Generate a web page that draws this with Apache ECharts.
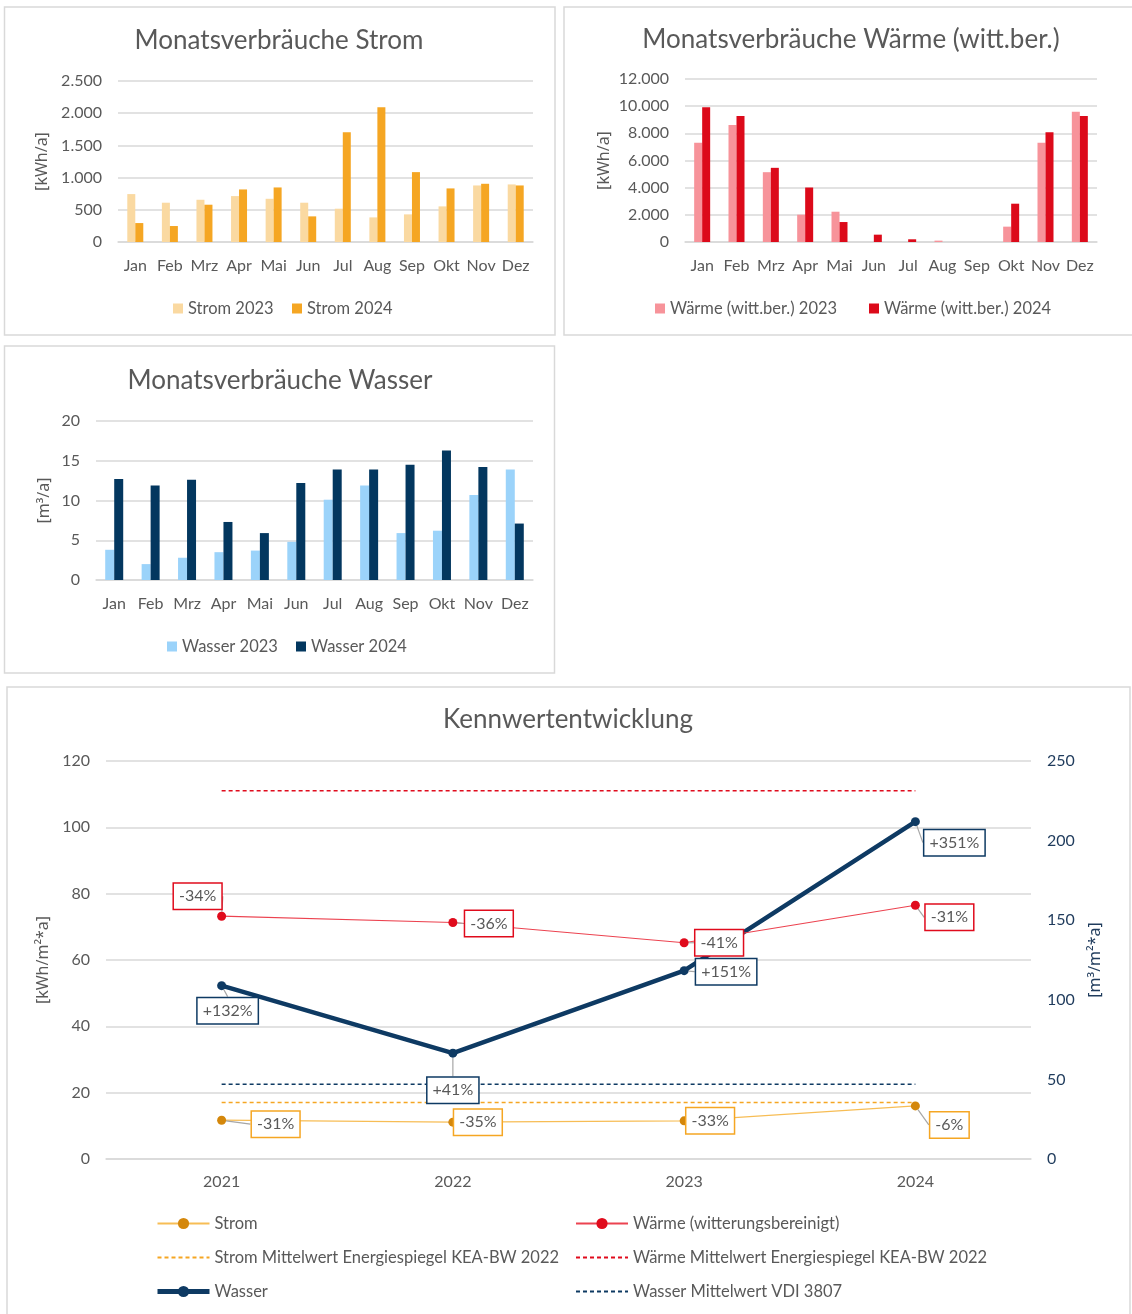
<!DOCTYPE html>
<html>
<head>
<meta charset="utf-8">
<script src="https://cdn.jsdelivr.net/npm/echarts@6/dist/echarts.min.js"></script>
<style>
    html, body { margin: 0; padding: 0; background: #fff; }
    #main { width: 1132px; height: 1314px; }
</style>
</head>
<body>
<div id="main"></div>
<script>
// monthly data
const months = ['Jan', 'Feb', 'Mrz', 'Apr', 'Mai', 'Jun', 'Jul', 'Aug', 'Sep', 'Okt', 'Nov', 'Dez']
const strom2023 = [744, 610, 656, 713, 671, 610, 517, 382, 429, 553, 878, 894]
const strom2024 = [294, 248, 579, 816, 847, 398, 1705, 2092, 1085, 832, 904, 878]
const waerme2023 = [7300, 8620, 5140, 2010, 2230, 0, 0, 100, 0, 1130, 7300, 9580]
const waerme2024 = [9920, 9280, 5460, 4010, 1470, 540, 200, 0, 0, 2820, 8080, 9280]
const wasser2023 = [3.8, 2.0, 2.8, 3.5, 3.7, 4.8, 10.1, 11.9, 5.9, 6.2, 10.7, 13.9]
const wasser2024 = [12.7, 11.9, 12.6, 7.3, 5.9, 12.2, 13.9, 13.9, 14.5, 16.3, 14.2, 7.1]

// yearly key figures
const years = ['2021', '2022', '2023', '2024']
const stromKW = [11.7, 11.1, 11.5, 16.0]
const waermeKW = [73.2, 71.3, 65.2, 76.5]
const wasserKW = [108.9, 66.5, 118.3, 211.9]
const stromMittel = [17, 17, 17, 17]
const waermeMittel = [111, 111, 111, 111]
const wasserMittel = [47, 47, 47, 47]
const stromDelta = ['-31%', '-35%', '-33%', '-6%']
const waermeDelta = ['-34%', '-36%', '-41%', '-31%']
const wasserDelta = ['+132%', '+41%', '+151%', '+351%']

// label box offsets from the point (layout only)
const stromOff = [[54, 4], [25, 0], [26, 0], [34, 19]]
const waermeOff = [[-24, -20], [36, 1], [35, 0], [34, 12]]
const wasserOff = [[6, 25], [0, 37], [42, 1], [39, 21]]

const FONT = 'Lato, "Noto Sans", sans-serif'
const NAMEFONT = '"Noto Sans", sans-serif'
const GREY = '#595959'
const GRID = '#d9d9d9'

function deNum (v) {
    return String(v).replace(/\B(?=(\d{3})+(?!\d))/g, '.')
}

function catAxis (idx, data) {
    return {
        type: 'category',
        gridIndex: idx,
        data: data,
        axisLine: { lineStyle: { color: GRID, width: 1.5 } },
        axisTick: { show: false },
        axisLabel: { color: GREY, fontSize: 16, fontFamily: FONT, margin: 16, interval: 0 }
    }
}

function valAxis (idx, max, interval, name, gap) {
    return {
        type: 'value',
        gridIndex: idx,
        min: 0,
        max: max,
        interval: interval,
        name: name,
        nameLocation: 'middle',
        nameGap: gap,
        nameRotate: 90,
        nameTextStyle: { color: GREY, fontSize: 16, fontFamily: NAMEFONT },
        axisLine: { show: false },
        axisTick: { show: false },
        splitLine: { lineStyle: { color: GRID, width: 1.5 } },
        axisLabel: { color: GREY, fontSize: 16, fontFamily: FONT, margin: 16, formatter: deNum }
    }
}

function barLegend (name, left, top) {
    return {
        data: [name],
        left: left,
        top: top,
        icon: 'rect',
        itemWidth: 10,
        itemHeight: 10,
        itemGap: 0,
        selectedMode: false,
        textStyle: { color: GREY, fontSize: 16.5, fontFamily: FONT }
    }
}

function lineLegend (items, left) {
    return {
        data: items,
        orient: 'vertical',
        left: left,
        top: 1210,
        itemWidth: 52,
        itemHeight: 14,
        itemGap: 17,
        selectedMode: false,
        textStyle: { color: GREY, fontSize: 16.5, fontFamily: FONT }
    }
}

function bar (name, data, color, idx, width) {
    return {
        name: name,
        type: 'bar',
        xAxisIndex: idx,
        yAxisIndex: idx,
        data: data,
        barWidth: width,
        barGap: '0%',
        itemStyle: { color: color }
    }
}

function labelFor (texts, border) {
    return {
        show: true,
        formatter: function (p) { return texts[p.dataIndex] },
        color: GREY,
        fontSize: 16,
        fontFamily: FONT,
        backgroundColor: '#fff',
        borderColor: border,
        borderWidth: 1.5,
        padding: [5, 5, 4, 5]
    }
}

function layoutFor (offs) {
    return function (p) {
        let o = offs[p.dataIndex]
        return {
            x: p.rect.x + p.rect.width / 2 + o[0],
            y: p.rect.y + p.rect.height / 2 + o[1],
            align: 'center',
            verticalAlign: 'middle'
        }
    }
}

function meanLine (name, data, color, yIdx) {
    return {
        name: name,
        type: 'line',
        xAxisIndex: 3,
        yAxisIndex: yIdx,
        data: data,
        symbol: 'none',
        silent: true,
        lineStyle: { color: color, width: 1.5, type: [4, 3] },
        itemStyle: { color: color }
    }
}

function panel (x, y, w, h) {
    return {
        type: 'rect',
        shape: { x: x, y: y, width: w, height: h },
        style: { fill: 'none', stroke: GRID, lineWidth: 1.5 },
        silent: true
    }
}

function title (text, x, y) {
    return {
        type: 'text',
        x: x,
        y: y,
        style: {
            text: text,
            align: 'center',
            verticalAlign: 'middle',
            fill: GREY,
            fontSize: 26,
            fontFamily: FONT
        }
    }
}

let chart = echarts.init(document.getElementById('main'), null, { renderer: 'canvas' })

chart.setOption({
    backgroundColor: '#fff',
    animation: false,
    graphic: [
        panel(4.5, 7, 550.5, 328),
        panel(564, 7, 590, 328),
        panel(4.5, 346, 550, 327),
        panel(7, 687, 1123, 660),
        title('Monatsverbräuche Strom', 279, 41),
        title('Monatsverbräuche Wärme (witt.ber.)', 851, 40),
        title('Monatsverbräuche Wasser', 280, 381),
        title('Kennwertentwicklung', 568, 720)
    ],
    grid: [
        { left: 118, right: 599, top: 81, bottom: 1072 },
        { left: 685, right: 35, top: 79, bottom: 1072 },
        { left: 96, right: 599, top: 421, bottom: 734 },
        { left: 106, right: 101, top: 761, bottom: 155 }
    ],
    xAxis: [
        catAxis(0, months),
        catAxis(1, months),
        catAxis(2, months),
        Object.assign(catAxis(3, years), { axisLabel: { color: GREY, fontSize: 16, fontFamily: FONT, margin: 15 } })
    ],
    yAxis: [
        valAxis(0, 2500, 500, '[kWh/a]', 68),
        valAxis(1, 12000, 2000, '[kWh/a]', 73),
        valAxis(2, 20, 5, '[m³/a]', 44),
        valAxis(3, 120, 20, '[kWh/m²*a]', 52),
        Object.assign(valAxis(3, 250, 50, '[m³/m²*a]', 56), {
            position: 'right',
            splitLine: { show: false },
            nameTextStyle: { color: '#1f3b5c', fontSize: 16, fontFamily: NAMEFONT },
            axisLabel: { color: '#1f3b5c', fontSize: 16, fontFamily: FONT, margin: 16 }
        })
    ],
    legend: [
        barLegend('Strom 2023', 168, 295),
        barLegend('Strom 2024', 287, 295),
        barLegend('Wärme (witt.ber.) 2023', 650, 295),
        barLegend('Wärme (witt.ber.) 2024', 864, 295),
        barLegend('Wasser 2023', 162, 633),
        barLegend('Wasser 2024', 291, 633),
        lineLegend([
            { name: 'Strom' },
            { name: 'Strom Mittelwert Energiespiegel KEA-BW 2022', itemStyle: { opacity: 0 } },
            { name: 'Wasser', lineStyle: { width: 5 } }
        ], 150),
        lineLegend([
            { name: 'Wärme (witterungsbereinigt)' },
            { name: 'Wärme Mittelwert Energiespiegel KEA-BW 2022', itemStyle: { opacity: 0 } },
            { name: 'Wasser Mittelwert VDI 3807', itemStyle: { opacity: 0 } }
        ], 570)
    ],
    series: [
        bar('Strom 2023', strom2023, '#fad9a1', 0, 8),
        bar('Strom 2024', strom2024, '#f5a623', 0, 8),
        bar('Wärme (witt.ber.) 2023', waerme2023, '#f7939a', 1, 8),
        bar('Wärme (witt.ber.) 2024', waerme2024, '#dc0a1a', 1, 8),
        bar('Wasser 2023', wasser2023, '#9bd3fa', 2, 9),
        bar('Wasser 2024', wasser2024, '#03375f', 2, 9),

        meanLine('Strom Mittelwert Energiespiegel KEA-BW 2022', stromMittel, '#f5a623', 3),
        meanLine('Wärme Mittelwert Energiespiegel KEA-BW 2022', waermeMittel, '#e00b1c', 3),
        meanLine('Wasser Mittelwert VDI 3807', wasserMittel, '#0e3a63', 4),

        {
            name: 'Wasser',
            type: 'line',
            xAxisIndex: 3,
            yAxisIndex: 4,
            data: wasserKW,
            symbol: 'circle',
            symbolSize: 9,
            lineStyle: { color: '#0e3a63', width: 4.5 },
            itemStyle: { color: '#0e3a63' },
            label: labelFor(wasserDelta, '#0e3a63'),
            labelLayout: layoutFor(wasserOff),
            labelLine: { show: true, lineStyle: { color: '#a6a6a6', width: 1.2 } }
        },
        {
            name: 'Wärme (witterungsbereinigt)',
            type: 'line',
            xAxisIndex: 3,
            yAxisIndex: 3,
            data: waermeKW,
            symbol: 'circle',
            symbolSize: 9,
            lineStyle: { color: '#ec4350', width: 1.2 },
            itemStyle: { color: '#e00b1c' },
            label: labelFor(waermeDelta, '#e00b1c'),
            labelLayout: layoutFor(waermeOff),
            labelLine: { show: true, lineStyle: { color: '#a6a6a6', width: 1.2 } }
        },
        {
            name: 'Strom',
            type: 'line',
            xAxisIndex: 3,
            yAxisIndex: 3,
            data: stromKW,
            symbol: 'circle',
            symbolSize: 9,
            lineStyle: { color: '#f7bd55', width: 1.2 },
            itemStyle: { color: '#d4870b' },
            label: labelFor(stromDelta, '#f5a623'),
            labelLayout: layoutFor(stromOff),
            labelLine: { show: true, lineStyle: { color: '#a6a6a6', width: 1.2 } }
        }
    ]
})
</script>
</body>
</html>
